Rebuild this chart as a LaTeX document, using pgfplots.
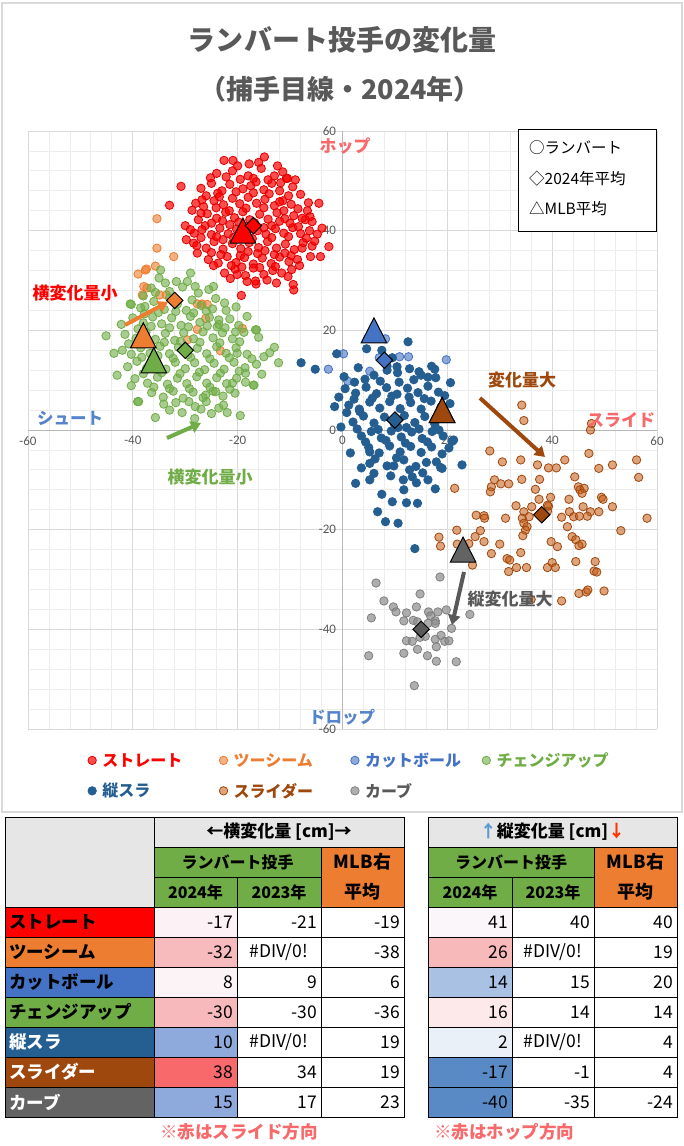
\documentclass[border=0pt]{standalone}
\usepackage{fontspec}
\setmainfont{Noto Sans CJK JP}
\newfontfamily\carlito{Carlito}
\usepackage{pgfplots}
\pgfplotsset{compat=1.18}
\usetikzlibrary{arrows.meta}

\definecolor{cRed}{HTML}{FF0000}
\definecolor{cRedD}{HTML}{E00000}
\definecolor{cOrg}{HTML}{ED7D31}
\definecolor{cLB}{HTML}{4472C4}
\definecolor{cGrn}{HTML}{70AD47}
\definecolor{cDB}{HTML}{255E91}
\definecolor{cBrn}{HTML}{9E480E}
\definecolor{cBrnF}{HTML}{C55A11}
\definecolor{cGry}{HTML}{7F7F7F}
\definecolor{cGryF}{HTML}{8C8C8C}
\definecolor{cGryD}{HTML}{595959}
\definecolor{cGryT}{HTML}{636363}
\definecolor{cPink}{HTML}{F8696B}
\definecolor{cHdr}{HTML}{E7E6E6}
\definecolor{cBlueTxt}{HTML}{5584CC}
\definecolor{cUp}{HTML}{5B9BD5}
\definecolor{cDown}{HTML}{FF3300}
\definecolor{tA}{HTML}{FCF1F4}
\definecolor{tB}{HTML}{F8BBBD}
\definecolor{tC}{HTML}{FCF3F6}
\definecolor{tD}{HTML}{F8B9BC}
\definecolor{tE}{HTML}{8EA9DB}
\definecolor{tF}{HTML}{F8696B}
\definecolor{rA}{HTML}{FBF6FA}
\definecolor{rB}{HTML}{F8B9BB}
\definecolor{rC}{HTML}{A9C1E3}
\definecolor{rD}{HTML}{FDE8EA}
\definecolor{rE}{HTML}{EAF0F8}
\definecolor{rF}{HTML}{5A8AC6}

\newcommand{\fs}[1]{\fontsize{#1bp}{#1bp}\selectfont}
\newcommand{\bx}[5]{\filldraw[fill=#5,draw=black,line width=1bp] (#1,#2) rectangle (#3,#4);}
\newcommand{\num}[3]{\node[anchor=east,inner sep=0pt,font=\fs{17.5}] at (#1,#2) {#3};}
\newcommand{\err}[2]{\node[inner sep=0pt,font=\fs{17.5}] at (#1,#2) {\#DIV/0!};}
\newcommand{\nm}[3]{\node[anchor=west,inner sep=0pt,font=\bfseries\fs{17.5},text=#3] at (9,#1) {#2};}

\pgfplotsset{
  pt/.style={only marks, mark=*, mark size=4.2bp},
  sRed/.style={pt, mark options={draw=cRedD, fill=cRed, fill opacity=0.7, line width=0.8bp}},
  sOrg/.style={pt, mark options={draw=cOrg, fill=cOrg, fill opacity=0.6, line width=0.8bp}},
  sLB/.style={pt, mark options={draw=cLB, fill=cLB, fill opacity=0.6, line width=0.8bp}},
  sGrn/.style={pt, mark options={draw=cGrn, fill=cGrn, fill opacity=0.6, line width=0.8bp}},
  sDB/.style={pt, mark options={draw=cDB, fill=cDB, line width=0.8bp}},
  sBrn/.style={pt, mark options={draw=cBrn, fill=cBrnF, fill opacity=0.55, line width=0.8bp}},
  sGry/.style={pt, mark options={draw=cGry, fill=cGryF, fill opacity=0.7, line width=0.8bp}},
  tri/.style={only marks, mark=triangle*, mark size=14.8bp, forget plot, mark options={draw=black, line width=1bp, fill=#1, yshift=-4.2bp, yscale=1.13}},
  dia/.style={only marks, mark=square*, mark size=5.8bp, forget plot, mark options={draw=black, line width=1bp, fill=#1, rotate=45}},
}

\begin{document}
\begin{tikzpicture}
\begin{scope}[x=1bp,y=-1bp]
\path[use as bounding box] (0,0) rectangle (684,1146);
\fill[white] (0,0) rectangle (684,1146);
\draw[draw=black!15, line width=1.2bp] (2,3) rectangle (682,812);
\node[font=\bfseries\fs{28}, text=cGryD] at (342,40) {ランバート投手の変化量};
\node[font=\bfseries\fs{27}, text=cGryD] at (340,89) {（捕手目線・2024年）};
\end{scope}

\begin{axis}[
  at={(342.5bp,-430bp)}, anchor=center,
  scale only axis, width=629bp, height=598bp,
  xmin=-60, xmax=60, ymin=-60, ymax=60,
  enlargelimits=false,
  axis lines=middle,
  axis line style={draw=black!28, line width=1bp, -},
  xtick={-60,-40,...,60}, ytick={-60,-40,...,60},
  minor tick num=4,
  major tick length=0pt, minor tick length=0pt,
  grid=both,
  major grid style={draw=black!15, line width=0.8bp},
  minor grid style={draw=black!7, line width=0.8bp},
  hide obscured x ticks=false, hide obscured y ticks=false,
  tick label style={font=\carlito\fs{13}, text=cGryD},
  /pgf/number format/assume math mode=true,
  xticklabel style={yshift=-3bp},
  yticklabel style={xshift=-3bp},
  clip=false,
  legend columns=4,
  legend cell align=left,
  legend style={at={(0.095,-0.036)}, anchor=north west, draw=none, fill=none, font=\bfseries\fs{16}, row sep=11bp, inner sep=0pt,
    /tikz/every odd column/.append style={column sep=4bp}},
  legend image code/.code={\draw[#1] plot coordinates {(0bp,0bp)};},
]
% ストレート
\addplot[sRed] coordinates {
(-22.6,54.1) (-20.9,54.1) (-14.9,54.8) (-30.8,48.9) (-33,45.1) (-28.7,44.1) (-10.7,50.5) (-6.7,44) (-2.6,36.8) (-4.2,34.8) (-6.1,34.8) (-9.3,28.1) (-9.4,29.2) (-19.3,27) (-16.5,29.3) (-20.1,31.2) (-27.7,35.5) (-28.4,37.5) (-10.4,30.8) (-7.7,36.5) (-7.1,42.2) (-3.9,40.5) (-4.5,45.5) (-30,41) (-29.8,38.2) (-12.4,53) (-17.8,53.4)
(-24,51.5) (-21,52) (-18,51) (-15.5,52.5) (-13,51) (-10.5,50.5) (-19.5,50.3) (-16.5,49.8)
(-27,48.5) (-25,49.5) (-23,48) (-21.5,49.3) (-19,48.4) (-17.5,49) (-15,48.2) (-13.5,49.5) (-12,48) (-9.5,48.8) (-8,47.3) (-26,47)
(-28,45.5) (-26.5,44.8) (-24.5,46) (-22.7,45.2) (-21,46.5) (-19.6,45.4) (-18,46.7) (-16.4,45.5) (-14.8,46.3) (-13,45) (-11.4,46) (-9.8,45.3) (-8.5,44.4) (-6.5,45.6) (-23.8,47.5) (-17,47.6) (-11.2,44)
(-27.5,42.2) (-25.8,43.4) (-24,42.5) (-22.3,43.7) (-20.6,42.6) (-19,43.8) (-17.7,42.2) (-15.8,43.3) (-14.2,42.3) (-12.5,43.6) (-11,42.4) (-9.3,43) (-7.7,42.5) (-5.8,41.8) (-26.2,41) (-21.5,41.2) (-13.5,41)
(-28.3,39.5) (-26.8,40.2) (-25,39.2) (-23.4,40.5) (-21.8,39.4) (-20.2,40.3) (-18.5,39) (-16.2,40) (-14.6,39.3) (-12.8,40.4) (-11.2,39.5) (-9.5,40.6) (-8,39.4) (-6.3,40) (-4.8,39.3) (-22.8,38.2)
(-27.8,37) (-26,36.5) (-24.5,37.8) (-22.8,36.3) (-21,37.4) (-19.4,36.4) (-17.8,37.6) (-16,36.6) (-14.3,37.8) (-12.6,36.5) (-10.9,37.3) (-9.2,36.2) (-7.5,37.6) (-5.8,36.9) (-19.5,35)
(-25.6,34.2) (-23.7,33.5) (-22,34.8) (-20.3,33.6) (-18.7,34.6) (-17,33.3) (-15.3,34.5) (-13.6,33.4) (-12,34.7) (-10.2,33.8) (-8.6,34.2) (-16.2,35.4) (-11,35.5)
(-22.5,31.5) (-20.5,32.3) (-18.5,31) (-17,32.5) (-15,31.2) (-13.3,32) (-11.6,31.5) (-14.4,30.1) (-16.6,29.9) (-12.6,29.5)
(-25.2,50.6) (-22.2,50.8) (-17,50.5) (-14.2,50.2) (-11.8,49.6) (-24.1,44.6) (-21.6,44) (-18.4,44.5) (-15,44.6) (-12,45.8) (-10.3,47) (-26.8,46.2) (-20.3,47.8) (-14,47.4) (-25,41.5) (-22.9,42) (-19.8,41.7) (-16.8,41.6) (-15,40.6) (-12,41.9) (-10,41.5) (-8.4,40.8) (-27,38.6) (-24,38.8) (-20.8,38.6) (-17.2,38.4) (-13.5,38.6) (-10.3,38.8) (-6.9,38.5) (-25,35.6) (-23.2,35.2) (-18,35.8) (-14.8,36) (-13,35.2) (-9.8,35) (-21.2,33) (-19.2,32.7) (-15.8,32.6) (-12.8,32.8) (-9.7,32.2) (-21.4,30.4) (-18.2,29.8) (-23.5,46.8) (-9,50.2) (-6.2,42.8) (-5.3,37.9) (-27,43.5) (-29,40.2) (-24.6,33) (-8.2,33) (-11.4,51.8) (-20,53) (-16,53.7)
};
\addlegendentry{\makebox[115bp][l]{\textcolor{cRed}{ストレート}}}
% ツーシーム
\addplot[sOrg] coordinates {
(-35.4,42.4) (-35.4,36.5) (-32.2,34.8) (-35.7,32.9) (-37.4,32.3) (-39,31.3) (-37.9,28.8) (-37.3,28.5) (-34.9,27.1) (-33.6,27.1) (-27.7,25.3) (-26.8,25.3) (-26.1,22.4) (-27.7,20.2) (-19.1,20.4) (-23.3,15.9) (-29.6,18.1) (-38.2,27.1) (-25.8,25.2) (-37.6,32.1)
};
\addlegendentry{\makebox[115bp][l]{\textcolor{cOrg}{ツーシーム}}}
% カットボール
\addplot[sLB] coordinates {
(-2.7,12.2) (0.2,15.3) (10.9,14.7) (12.6,14.7) (19.8,14.1) (5.2,11.8) (1,9.8) (8.2,18.3) (7,14.5)
};
\addlegendentry{\makebox[115bp][l]{\textcolor{cLB}{カットボール}}}
% チェンジアップ
\addplot[sGrn] coordinates {
(-45.1,18.9) (-43,11) (-43.6,15.4) (-40.3,8.9) (-39.1,5.7) (-35.7,2.5) (-28.2,2.3) (-34.1,5.2) (-28.1,4.7) (-19.5,2.9) (-22,3.5) (-22.7,5) (-26,5.7) (-29.3,5.7) (-16.9,9) (-15,14.7) (-13.9,15.5) (-18.5,11.4) (-16.6,20.1) (-18.2,22.8) (-22.2,24) (-24.6,28.8) (-28.1,28.8) (-29.6,29.8) (-31.7,29.8) (-33.8,29.5) (-35.7,27.6) (-40.3,25.2) (-38,26.9) (-37.7,24.8) (-20.4,19.7) (-20.1,15.4) (-21,9.4) (-24.2,7.7) (-26.1,7) (-23.9,20.7) (-23.6,22.1) (-34.7,32.1) (-12.2,13.5) (-17,9) (-38.9,5.7) (-40.5,25.3) (-16.4,20.1)
(-36.5,28.5) (-33,27.8) (-30.5,28.7) (-27.5,27.5) (-25.5,28.2) (-35,30.5) (-29,31.5)
(-38.5,24.5) (-36,25.8) (-34,24.2) (-31.5,25.3) (-29.8,24) (-27,25) (-24.8,24.3) (-22.5,25.5) (-33,26.5)
(-40,22.5) (-38,21.5) (-36.2,22.7) (-34.5,21.3) (-32.6,22.5) (-30.8,21) (-29,22.8) (-27.2,21.6) (-25.4,22.6) (-23.6,21.2) (-21.5,22.3) (-19.8,21)
(-41.5,19.2) (-39.4,18.4) (-37.5,19.6) (-35.7,18.2) (-33.8,19.4) (-32,18) (-30.3,19.5) (-28.4,18.3) (-26.6,19.7) (-24.7,18.5) (-22.9,19.5) (-21,18.3) (-18.8,19.6) (-16,18.6)
(-42,16) (-40.3,15.2) (-38.5,16.5) (-36.7,15.4) (-34.8,16.8) (-33,15.3) (-31.3,16.6) (-29.5,15.1) (-27.7,16.4) (-25.9,15.3) (-24,16.7) (-22.2,15.4) (-20.3,16.5) (-18.2,15.2) (-13,16.6)
(-41,12.7) (-39.2,13.8) (-37.4,12.4) (-35.6,13.5) (-33.7,12.2) (-31.9,13.6) (-30,12.3) (-28.2,13.5) (-26.3,12.1) (-24.5,13.4) (-22.6,12.2) (-20.7,13.6) (-18.6,12.5) (-16.4,13.2)
(-39.6,10.3) (-37.2,9.4) (-35.3,10.6) (-33.4,9.2) (-31.5,10.4) (-29.7,9.3) (-27.8,10.7) (-25.9,9.4) (-24,10.5) (-22.1,9.3) (-20.2,10.4) (-18.5,9.6)
(-36.4,7.5) (-34.2,6.6) (-32.3,7.8) (-30.4,6.4) (-28.5,7.6) (-26.6,6.5) (-24.7,7.8) (-22.8,6.8) (-20.5,7.4)
(-33,4) (-30.6,3.5) (-27,4.2) (-25,3.3)
(-37.8,23.3) (-35.1,23.6) (-31.8,23.8) (-28.4,23.5) (-26,23.9) (-39,20.3) (-36.5,20.8) (-33,20.5) (-29.4,20.7) (-25.8,20.9) (-22.4,20.5) (-40.8,17.3) (-37.6,17.7) (-34,17.6) (-30.9,17.8) (-27.2,17.6) (-23.4,17.5) (-19.6,17.7) (-38.3,14.6) (-35.2,14.9) (-32.3,14.4) (-29,14.6) (-25.3,14.3) (-21.6,14.5) (-17.3,14.3) (-38,11.3) (-34.5,11.5) (-31,11.3) (-27.3,11.6) (-23.3,11.4) (-19.7,11.8) (-36,8.6) (-33,8.3) (-29.2,8.3) (-25.3,8.6) (-21.5,8.2) (-31.8,5.5) (-23.6,4.4) (-32.3,26.5) (-28.7,26.1) (-24.2,26.4) (-20.3,24.7) (-42.2,21.2) (-15.4,11.2)
};
\addlegendentry{\textcolor{cGrn}{チェンジアップ}}
% 縦スラ
\addplot[sDB] coordinates {
(-7.9,13.5) (-5.2,12.2) (-1.1,15.3) (4.6,16.3) (12.5,17.7) (0.3,10.7) (-1.5,4.7) (0.8,3.5) (2.5,-10.7) (5.2,-10) (5.2,-4.4) (6.7,-16.4) (8.2,-18.4) (10.6,-18.7) (12.2,-14.6) (14.3,-14.7) (11.7,-12) (11.6,-10) (13.3,-9.4) (14.1,-10.6) (16.3,-10) (22.8,-7) (21.2,-2) (19,-7.7) (17.9,-6.4) (17.6,12.2) (17.8,10.5) (20.9,-2.3) (18.7,-7.5) (8.5,12) (10.4,12.7) (14.6,11.7) (13.8,-23.8)
(3,12.5) (6,11) (8.5,12.8) (10.5,11.5) (12.8,12.3) (15,11) (17,12.8) (9.5,14.5) (7.5,16)
(0.5,8.3) (2.5,7.4) (4.5,8.6) (6.5,7.3) (8.4,8.5) (10.4,7.2) (12.4,8.4) (14.4,7.5) (16.3,8.8) (18.3,7.6) (-0.7,6.6)
(1.2,5) (3.2,4.2) (5.2,5.6) (7.1,4.4) (9,5.7) (11,4.3) (13,5.5) (15,4.2) (16.9,5.8) (18.8,4.6) (20.5,5.3)
(2,1.6) (4,2.8) (6,1.4) (8,2.6) (9.9,1.2) (11.8,2.9) (13.8,1.5) (15.7,2.7) (17.6,1.2) (19.5,2.5) (3.3,3.7)
(3.6,-1.2) (5.5,-0.3) (7.4,-1.6) (9.3,-0.2) (11.2,-1.4) (13.2,-0.4) (15.2,-1.7) (17.1,-0.3) (19.2,-1.2) (12.2,0.5)
(5,-3.5) (7,-4.6) (9,-3.2) (11,-4.4) (13,-3.3) (15,-4.5) (17,-3.4) (19,-4.8) (6.2,-5.8)
(8.5,-7.2) (9.8,-7.2) (10.3,-5.6) (11.7,-6) (5.2,-6.7) (14,-7.3) (16,-6.5) (12.8,-8)
(4.3,10.2) (7.2,9.8) (10.8,9.6) (13.6,10.1) (16.3,10.6) (2.2,6.2) (5.7,6.4) (9.4,6.8) (12.7,6.6) (15.6,6.3) (19.5,6.9) (2.8,0.2) (6.8,0.1) (10.6,0.5) (14.6,0.2) (18.4,0) (4.4,-2.4) (8.3,-2.1) (12,-2.6) (16.2,-2.4) (20.3,-3.6) (6,-8.7) (9.2,-9.2) (15.3,-8.6) (17.7,-11.8) (7.5,-12.9) (9.5,-14.4) (3.6,-7.6) (1.5,-4.6) (-0.3,0.6) (20.6,9.5) (2.3,9.6)
};
\addlegendentry{\makebox[115bp][l]{\textcolor{cDB}{縦スラ}}}
% スライダー
\addplot[sBrn] coordinates {
(34.2,5.0) (34.6,1.9) (47.5,1.3) (47.3,0) (28.1,-4.2) (30.5,-6.4) (34.0,-6.0) (37.2,-7.0) (39.3,-7.6) (40.8,-7.6) (42.4,-6.0) (47.0,-4.7) (48.9,-7.7) (51.5,-7.0) (56.1,-6.0) (56.5,-9.5) (44.3,-9.4)
(21.4,-11.7) (29.0,-10.0) (28.4,-11.4) (28.2,-12.4) (30.2,-10.8) (31.7,-10.8) (34.2,-9.9) (37.6,-9.9) (36.8,-11.9) (45.0,-11.4) (45.3,-12.0) (46.1,-11.7) (45.7,-12.7)
(39.7,-13.5) (37.5,-13.9) (39.3,-15.3) (33.1,-15.2) (36.1,-15.4) (34.6,-16.4) (34.3,-17.7) (35.6,-17.4) (43.2,-13.9) (49.4,-13.5) (49.7,-13.9) (51.5,-15.4) (45.9,-15.4) (47.3,-16.4) (48.9,-16.4) (43.3,-16.4) (44.1,-17.4) (45.2,-17.3) (46.7,-17.3) (41.8,-17.5) (39.1,-16.3) (39.1,-15.1)
(31.1,-17.7) (25.5,-17.1) (27.0,-17.2) (27.1,-17.7) (34.6,-18.7) (35.2,-19.4) (34.9,-20.1) (34.4,-21.2) (42.9,-19.4) (53.1,-20.2) (58.1,-17.7) (26.3,-20.2)
(18.4,-21.5) (18.7,-23.3) (21.8,-20.1) (21.9,-22.9) (25.3,-21.4) (24.1,-22.8) (27.0,-22.4) (30.0,-22.9) (34.0,-24.6) (28.4,-24.8) (31.4,-25.8) (31.9,-26.1) (33.2,-27.6) (31.7,-28.4) (35.1,-27.6) (39.1,-27.6) (40.0,-26.6) (40.6,-27.6) (39.8,-22.4) (41.0,-23.4) (43.8,-21.4) (44.5,-22.0) (45.7,-22.9) (45.1,-23.2) (44.5,-26.4) (48.2,-26.4) (48.0,-28.3) (48.5,-28.5)
(45.1,-32.8) (46.5,-32.5) (46.8,-32.1) (49.9,-32.3) (41.8,-34.3) (24.8,-27.1) (36,-34)
};
\addlegendentry{\makebox[115bp][l]{\textcolor{cBrn}{スライダー}}}
% カーブ
\addplot[sGry] coordinates {
(6.4,-30.7) (18.6,-29.5) (14.8,-32.9) (7.9,-34.3) (9.7,-35.5) (10.2,-36.5) (12.2,-36.7) (14.1,-35.5) (5.5,-37.7) (11.7,-38.3) (13.5,-38.2) (14.3,-38.5) (16.4,-36.5) (16.8,-37.3) (18.2,-36.5) (19.8,-36.1) (17.7,-38.3) (17.7,-38.8) (16.3,-38.8) (24.3,-37.0) (20.8,-39.8) (15.8,-41.4) (14.8,-41.6) (12.2,-42.3) (13.3,-42.4) (17.7,-42.0) (18.8,-41.2) (19.5,-42.4) (20.3,-42.3) (17.9,-43.5) (14.3,-44.0) (11.7,-44.8) (5.0,-45.3) (16.2,-45.3) (17.9,-46.4) (21.7,-46.5) (13.7,-51.3)
};
\addlegendentry{\textcolor{cGryD}{カーブ}}
% MLB平均 (triangles)
\addplot[tri=cDB] coordinates {(19,4)};
\addplot[tri=cRed] coordinates {(-19,40)};
\addplot[tri=cOrg] coordinates {(-38,19)};
\addplot[tri=cLB] coordinates {(6,20)};
\addplot[tri=cGrn] coordinates {(-36,14)};
\addplot[tri=cBrn] coordinates {(19,4)};
\addplot[tri=cGryT] coordinates {(23,-24)};
% 2024年平均 (diamonds)
\addplot[dia=cRed] coordinates {(-17,41)};
\addplot[dia=cOrg] coordinates {(-32,26)};
\addplot[dia=cLB] coordinates {(8,14)};
\addplot[dia=cGrn] coordinates {(-30,16)};
\addplot[dia=cDB] coordinates {(10,2)};
\addplot[dia=cBrn] coordinates {(38,-17)};
\addplot[dia=cGryD] coordinates {(15,-40)};
\end{axis}

\begin{scope}[x=1bp,y=-1bp]
% arrows
\draw[cOrg, line width=4bp, -{Triangle[length=10bp,width=12bp]}] (125,325) -- (168,302);
\draw[cGrn, line width=4bp, -{Triangle[length=10bp,width=12bp]}] (167,438) -- (201,423);
\draw[cBrn, line width=4bp, -{Triangle[length=10bp,width=12bp]}] (480,398) -- (545,457);
\draw[cGryD, line width=4bp, -{Triangle[length=10bp,width=12bp]}] (464,572) -- (452,625);
% labels
\node[font=\bfseries\fs{17}, text=cRed] at (75,293) {横変化量小};
\node[font=\bfseries\fs{17}, text=cGrn] at (210,477) {横変化量小};
\node[font=\bfseries\fs{17}, text=cBrn] at (522,380) {変化量大};
\node[font=\bfseries\fs{17}, text=cGryD] at (510,599) {縦変化量大};
\node[font=\bfseries\fs{17}, text=cPink] at (345,146) {ホップ};
\node[font=\bfseries\fs{17}, text=cPink] at (621,420) {スライド};
\node[font=\bfseries\fs{16.5}, text=cBlueTxt] at (70,418) {シュート};
\node[font=\bfseries\fs{16.5}, text=cBlueTxt] at (342,717) {ドロップ};
% marker legend box
\filldraw[fill=white, draw=black, line width=1bp] (518,129) rectangle (656,231);
\node[anchor=west, inner sep=0pt, font=\fs{15.5}] at (529,148) {○ランバート};
\node[anchor=west, inner sep=0pt, font=\fs{15.5}] at (529,179) {◇2024年平均};
\node[anchor=west, inner sep=0pt, font=\fs{15.5}] at (529,209) {△MLB平均};

% ===== left table =====
\bx{5}{817}{154}{907}{cHdr}
\bx{154}{817}{404}{847}{cHdr}
\bx{154}{847}{321}{877}{cGrn}
\bx{321}{847}{404}{907}{cOrg}
\bx{154}{877}{237}{907}{cGrn}
\bx{237}{877}{321}{907}{cGrn}
\node[font=\bfseries\fs{17}] at (279,832) {←横変化量 [cm]→};
\node[font=\bfseries\fs{16}] at (237.5,862) {ランバート投手};
\node[font=\bfseries\fs{16}] at (195.5,892) {2024年};
\node[font=\bfseries\fs{16}] at (279,892) {2023年};
\node[font=\bfseries\fs{18}] at (362.5,862) {MLB右};
\node[font=\bfseries\fs{18}] at (362.5,892) {平均};
% rows
\bx{5}{907}{154}{937}{cRed}  \bx{154}{907}{237}{937}{tA} \bx{237}{907}{321}{937}{white} \bx{321}{907}{404}{937}{white}
\bx{5}{937}{154}{967}{cOrg}  \bx{154}{937}{237}{967}{tB} \bx{237}{937}{321}{967}{white} \bx{321}{937}{404}{967}{white}
\bx{5}{967}{154}{997}{cLB}   \bx{154}{967}{237}{997}{tC} \bx{237}{967}{321}{997}{white} \bx{321}{967}{404}{997}{white}
\bx{5}{997}{154}{1027}{cGrn} \bx{154}{997}{237}{1027}{tD} \bx{237}{997}{321}{1027}{white} \bx{321}{997}{404}{1027}{white}
\bx{5}{1027}{154}{1057}{cDB} \bx{154}{1027}{237}{1057}{tE} \bx{237}{1027}{321}{1057}{white} \bx{321}{1027}{404}{1057}{white}
\bx{5}{1057}{154}{1087}{cBrn} \bx{154}{1057}{237}{1087}{tF} \bx{237}{1057}{321}{1087}{white} \bx{321}{1057}{404}{1087}{white}
\bx{5}{1087}{154}{1117}{cGryT} \bx{154}{1087}{237}{1117}{tE} \bx{237}{1087}{321}{1117}{white} \bx{321}{1087}{404}{1117}{white}
\nm{922}{ストレート}{black}
\nm{952}{ツーシーム}{black}
\nm{982}{カットボール}{black}
\nm{1012}{チェンジアップ}{black}
\nm{1042}{縦スラ}{white}
\nm{1072}{スライダー}{white}
\nm{1102}{カーブ}{white}
\num{233}{922}{-17} \num{317}{922}{-21} \num{400}{922}{-19}
\num{233}{952}{-32} \err{279}{952}     \num{400}{952}{-38}
\num{233}{982}{8}   \num{317}{982}{9}   \num{400}{982}{6}
\num{233}{1012}{-30} \num{317}{1012}{-30} \num{400}{1012}{-36}
\num{233}{1042}{10} \err{279}{1042}    \num{400}{1042}{19}
\num{233}{1072}{38} \num{317}{1072}{34} \num{400}{1072}{19}
\num{233}{1102}{15} \num{317}{1102}{17} \num{400}{1102}{23}
\node[font=\bfseries\fs{17.5}, text=cPink] at (239,1132) {※赤はスライド方向};

% ===== right table =====
\bx{428}{817}{677}{847}{cHdr}
\bx{428}{847}{594}{877}{cGrn}
\bx{594}{847}{677}{907}{cOrg}
\bx{428}{877}{512}{907}{cGrn}
\bx{512}{877}{594}{907}{cGrn}
\node[font=\bfseries\fs{17}] at (552.5,832) {\textcolor{cUp}{↑}縦変化量 [cm]\textcolor{cDown}{↓}};
\node[font=\bfseries\fs{16}] at (511,862) {ランバート投手};
\node[font=\bfseries\fs{16}] at (470,892) {2024年};
\node[font=\bfseries\fs{16}] at (553,892) {2023年};
\node[font=\bfseries\fs{18}] at (635.5,862) {MLB右};
\node[font=\bfseries\fs{18}] at (635.5,892) {平均};
\bx{428}{907}{512}{937}{rA} \bx{512}{907}{594}{937}{white} \bx{594}{907}{677}{937}{white}
\bx{428}{937}{512}{967}{rB} \bx{512}{937}{594}{967}{white} \bx{594}{937}{677}{967}{white}
\bx{428}{967}{512}{997}{rC} \bx{512}{967}{594}{997}{white} \bx{594}{967}{677}{997}{white}
\bx{428}{997}{512}{1027}{rD} \bx{512}{997}{594}{1027}{white} \bx{594}{997}{677}{1027}{white}
\bx{428}{1027}{512}{1057}{rE} \bx{512}{1027}{594}{1057}{white} \bx{594}{1027}{677}{1057}{white}
\bx{428}{1057}{512}{1087}{rF} \bx{512}{1057}{594}{1087}{white} \bx{594}{1057}{677}{1087}{white}
\bx{428}{1087}{512}{1117}{rF} \bx{512}{1087}{594}{1117}{white} \bx{594}{1087}{677}{1117}{white}
\num{508}{922}{41}  \num{590}{922}{40}  \num{673}{922}{40}
\num{508}{952}{26}  \err{553}{952}      \num{673}{952}{19}
\num{508}{982}{14}  \num{590}{982}{15}  \num{673}{982}{20}
\num{508}{1012}{16} \num{590}{1012}{14} \num{673}{1012}{14}
\num{508}{1042}{2}  \err{553}{1042}     \num{673}{1042}{4}
\num{508}{1072}{-17} \num{590}{1072}{-1} \num{673}{1072}{4}
\num{508}{1102}{-40} \num{590}{1102}{-35} \num{673}{1102}{-24}
\node[font=\bfseries\fs{17.5}, text=cPink] at (504,1132) {※赤はホップ方向};
\end{scope}
\end{tikzpicture}
\end{document}
